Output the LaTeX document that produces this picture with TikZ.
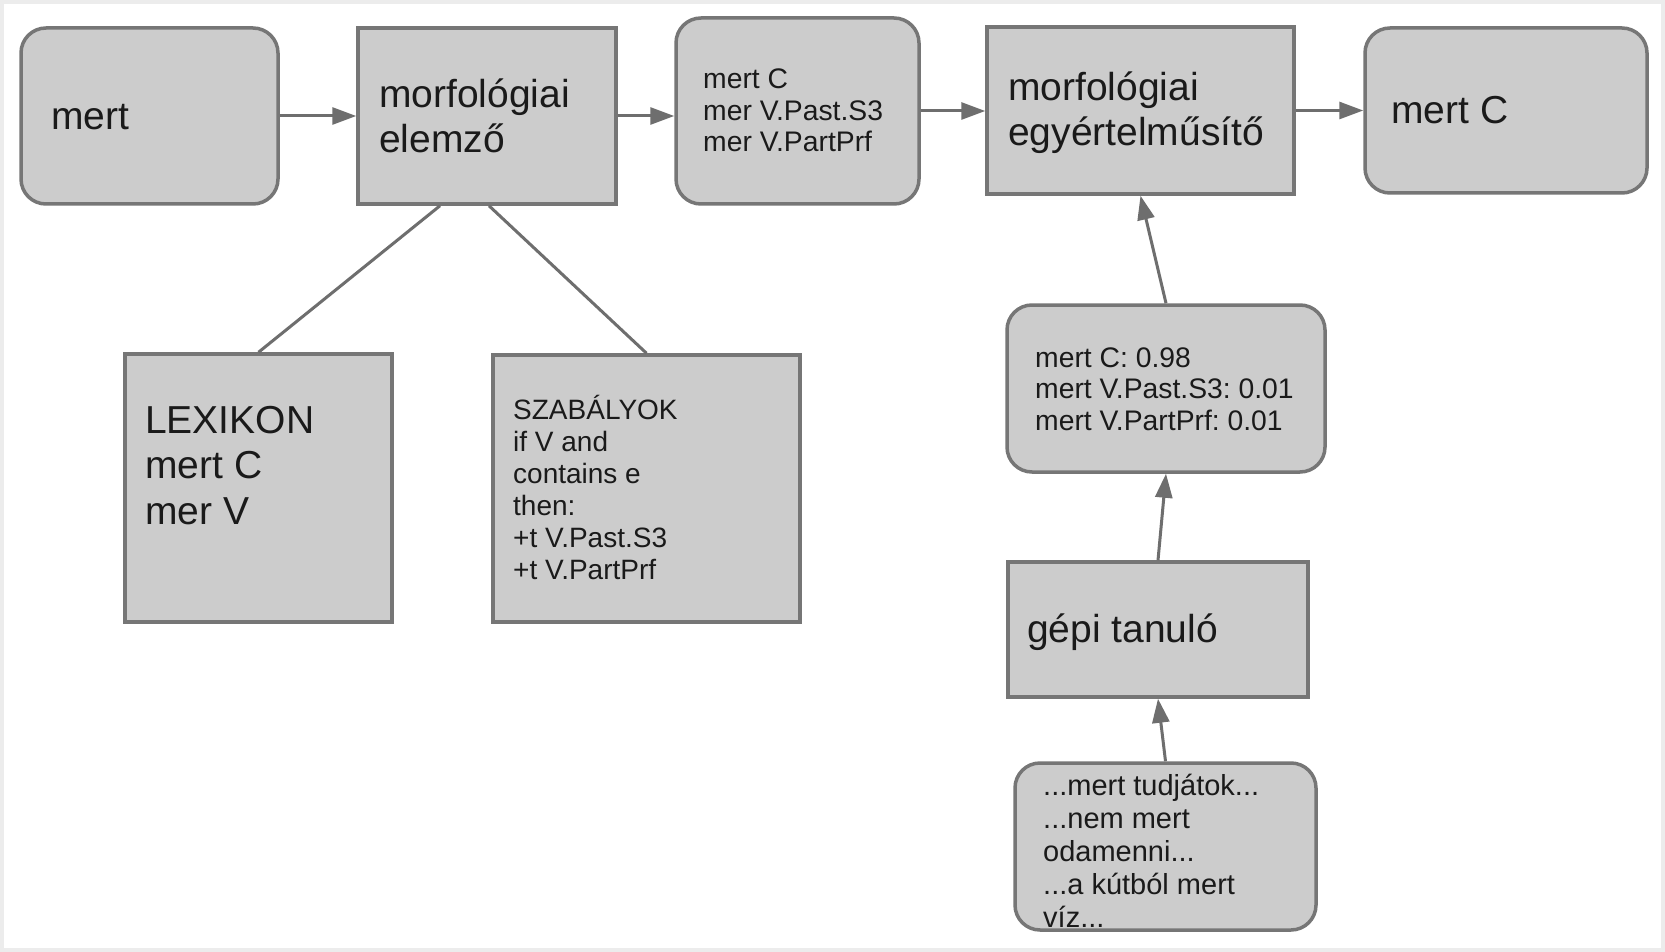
\documentclass[tikz,border=0pt]{standalone}
\usepackage{fontspec}
\setmainfont{Liberation Sans}
\usetikzlibrary{arrows.meta}
\frenchspacing
\definecolor{boxfill}{HTML}{CCCCCC}
\definecolor{boxline}{HTML}{767676}
\definecolor{arrowc}{HTML}{6E6E6E}
\definecolor{txt}{HTML}{1A1A1A}
\tikzset{
  box/.style={draw=boxline, fill=boxfill, line width=3.5pt, rectangle, inner sep=0pt},
  rbox/.style={box, rounded corners=25pt},
  bigtext/.style={font=\fontsize{39}{45}\selectfont, anchor=base west, inner sep=0pt, text=txt},
  smalltext/.style={font=\fontsize{28.3}{31.5}\selectfont, anchor=base west, inner sep=0pt, text=txt},
  midtext/.style={font=\fontsize{28}{32}\selectfont, anchor=base west, inner sep=0pt, text=txt},
  arr/.style={draw=arrowc, line width=3pt, -{Triangle[length=24pt,width=17pt]}},
  link/.style={draw=arrowc, line width=3pt},
}
\begin{document}
\begin{tikzpicture}[x=1pt,y=-1pt]
\useasboundingbox (0,0) rectangle (1665,952);
\fill[white] (0,0) rectangle (1665,952);
\draw[gray!15, line width=8pt] (0,0) rectangle (1665,952);

% boxes
\node[rbox, minimum width=257pt, minimum height=176pt] (b1) at (149.5,116) {};
\node[box,  minimum width=258pt, minimum height=176pt] (elem) at (487,116) {};
\node[rbox, minimum width=243pt, minimum height=186pt] (b3) at (797.5,111) {};
\node[box,  minimum width=307pt, minimum height=167pt] (egy) at (1140.5,110.5) {};
\node[rbox, minimum width=282pt, minimum height=165pt] (mertc) at (1506,110.5) {};
\node[box,  minimum width=267pt, minimum height=268pt] (lex) at (258.5,488) {};
\node[box,  minimum width=307pt, minimum height=267pt] (szab) at (646.5,488.5) {};
\node[rbox, minimum width=318pt, minimum height=167pt] (scores) at (1166,388.5) {};
\node[box,  minimum width=300pt, minimum height=135pt] (gepi) at (1158,629.5) {};
\node[rbox, minimum width=301pt, minimum height=167pt] (corpus) at (1165.5,846.5) {};

% texts
\node[bigtext] (t1) at (51,130) {mert};
\node[bigtext] (t2) at (379,108) {\begin{tabular}[t]{@{}l@{}}morfológiai\\elemző\end{tabular}};
\node[smalltext] (t3) at (703,89) {\begin{tabular}[t]{@{}l@{}}mert C\\mer V.Past.S3\\mer V.PartPrf\end{tabular}};
\node[bigtext] (t4) at (1008,101) {\begin{tabular}[t]{@{}l@{}}morfológiai\\egyértelműsítő\end{tabular}};
\node[bigtext] (t5) at (1391,124) {mert C};
\node[bigtext, font=\fontsize{39}{45.5}\selectfont] (t6) at (145,433) {\begin{tabular}[t]{@{}l@{}}LEXIKON\\mert C\\mer V\end{tabular}};
\node[midtext] (t7) at (513,419) {\begin{tabular}[t]{@{}l@{}}SZABÁLYOK\\if V and\\contains e\\then:\\+t V.Past.S3\\+t V.PartPrf\end{tabular}};
\node[smalltext] (t8) at (1035,367) {\begin{tabular}[t]{@{}l@{}}mert C: 0.98\\mert V.Past.S3: 0.01\\mert V.PartPrf: 0.01\end{tabular}};
\node[bigtext] (t9) at (1027,642) {gépi tanuló};
\node[midtext, font=\fontsize{29}{33}\selectfont] (t10) at (1043,795) {\begin{tabular}[t]{@{}l@{}}...mert tudjátok...\\...nem mert\\odamenni...\\...a kútból mert\\víz...\end{tabular}};

% connectors
\draw[arr] (b1.east) -- (elem.west);
\draw[arr] (elem.east) -- (elem.east -| b3.west);
\draw[arr] (b3.east) -- (b3.east -| egy.west);
\draw[arr] (egy.east) -- (egy.east -| mertc.west);
\draw[link] ([xshift=-47pt]elem.south) -- (lex.north);
\draw[link] ([xshift=2pt]elem.south) -- (szab.north);
\draw[arr] (scores.north) -- (egy.south);
\draw[arr] (gepi.north) -- (scores.south);
\draw[arr] (corpus.north) -- (gepi.south);
\end{tikzpicture}
\end{document}
